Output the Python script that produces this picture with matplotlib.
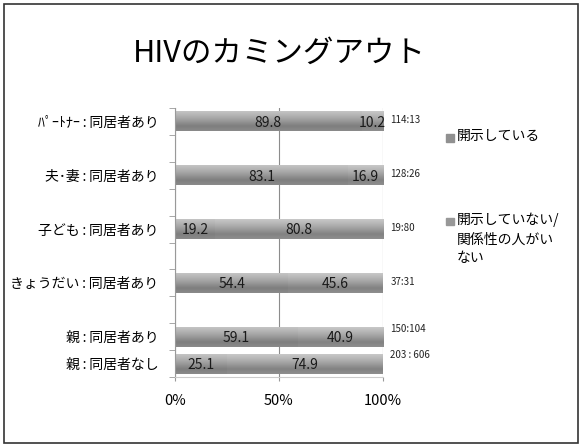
import matplotlib
matplotlib.use("Agg")
import matplotlib.pyplot as plt
import numpy as np
from matplotlib.colors import LinearSegmentedColormap
from matplotlib.patches import Rectangle

plt.rcParams['font.family'] = ['Noto Sans CJK JP', 'DejaVu Sans']

# data (top to bottom), empty slots between groups
slots = [0, 2, 4, 6, 8, 9]
sep = '\u2009:\u2009'
categories = ['ﾊﾟｰﾄﾅｰ' + sep + '同居者あり', '夫･妻' + sep + '同居者あり', '子ども' + sep + '同居者あり',
              'きょうだい' + sep + '同居者あり', '親' + sep + '同居者あり', '親' + sep + '同居者なし']
disclosed = [89.8, 83.1, 19.2, 54.4, 59.1, 25.1]
not_disclosed = [10.2, 16.9, 80.8, 45.6, 40.9, 74.9]
ratios = ['114:13', '128:26', '19:80', '37:31', '150:104', '203 : 606']
series_names = ['開示している', '開示していない/\n関係性の人がい\nない']
n_slots = 10

fig = plt.figure(figsize=(5.82, 4.46), dpi=100)
ax = fig.add_axes([175/582, 1-377/446, 208/582, 269/446])

# gradient colormaps (top -> bottom)
cm1 = LinearSegmentedColormap.from_list('g1', ['#c4c4c4', '#b0b0b0', '#989898', '#7e7e7e', '#8a8a8a'])
cm2 = LinearSegmentedColormap.from_list('g2', ['#c8c8c8', '#b4b4b4', '#9c9c9c', '#828282', '#8e8e8e'])
grad = np.linspace(0, 1, 64).reshape(-1, 1)

h = 0.74
b1 = ax.barh(slots, disclosed, height=h, color='#a0a0a0', zorder=2)
b2 = ax.barh(slots, not_disclosed, left=disclosed, height=h, color='#a8a8a8', zorder=2)
for bars, cm in ((b1, cm1), (b2, cm2)):
    for bar in bars:
        x0, y0 = bar.get_x(), bar.get_y()
        w, hh = bar.get_width(), bar.get_height()
        im = ax.imshow(grad, extent=[x0, x0 + w, y0 + hh, y0], aspect='auto',
                       cmap=cm, zorder=2.5, interpolation='bilinear')
        im.set_clip_path(bar)

# value labels
for s, a, b in zip(slots, disclosed, not_disclosed):
    ax.text(a / 2, s + 0.05, f'{a:.1f}', ha='center', va='center', fontsize=10, color='#1a1a1a', zorder=4)
    ax.text(a + b / 2, s + 0.05, f'{b:.1f}', ha='center', va='center', fontsize=10, color='#1a1a1a', zorder=4)
for s, r in zip(slots, ratios):
    off = -0.3 if s >= 8 else -0.05
    ax.text(103.5, s + off, r, ha='left', va='center', fontsize=7, color='#222222', clip_on=False)

ax.set_xlim(0, 100)
ax.set_ylim(n_slots - 0.5, -0.5)
ax.set_xticks([0, 50, 100])
ax.set_xticklabels(['0%', '50%', '100%'], fontsize=10.5)
ax.set_yticks(slots)
ax.set_yticklabels(categories, fontsize=10)
ax.set_yticks(np.arange(-0.5, n_slots, 1), minor=True)
ax.tick_params(axis='y', which='major', length=0, pad=12)
ax.tick_params(axis='y', which='minor', length=4, color='#999999')
ax.tick_params(axis='x', length=3, color='#999999', pad=9)
ax.grid(axis='x', color='#8c8c8c', linewidth=0.8, zorder=1)
for side in ('top', 'right'):
    ax.spines[side].set_visible(False)
ax.spines['left'].set_color('#999999')
ax.spines['bottom'].set_color('#cccccc')

# title
fig.text(279/582, 1-53/446, 'HIVのカミングアウト', ha='center', va='center', fontsize=22)

# legend drawn by hand
leg_y = [138, 222]
leg_c = ['#909090', '#989898']
for name, y, c in zip(series_names, leg_y, leg_c):
    fig.patches.append(Rectangle((446/582, 1-(y+3.5)/446), 8/582, 7/446,
                                 transform=fig.transFigure, color=c))
    fig.text(457/582, 1-(y-9)/446, name, ha='left', va='top', fontsize=10, linespacing=1.45)

# outer frame
fig.patches.append(Rectangle((4/582, 3/446), 574/582, 439/446, transform=fig.transFigure,
                             fill=False, edgecolor='#333333', linewidth=1.2))

fig.savefig('out.png', dpi=100)
